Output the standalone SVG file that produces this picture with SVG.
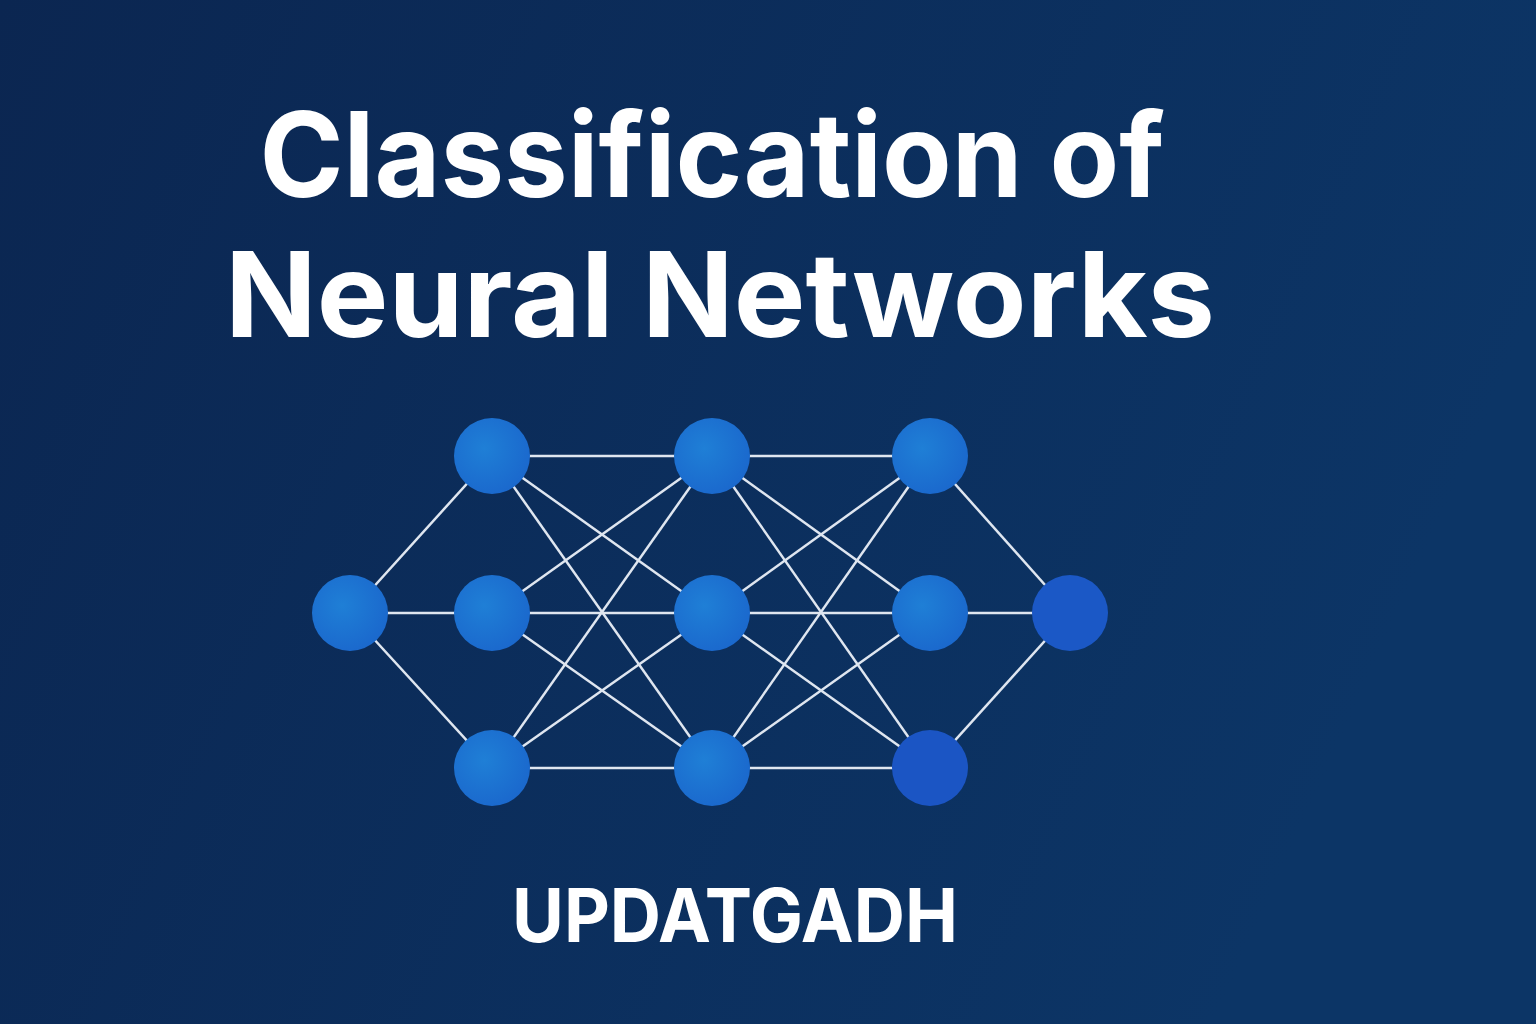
<svg xmlns="http://www.w3.org/2000/svg" width="1536" height="1024" viewBox="0 0 1536 1024">
<defs>
<linearGradient id="bg" x1="0" y1="0" x2="1" y2="0.3">
<stop offset="0" stop-color="#0b2651"/>
<stop offset="1" stop-color="#0c3566"/>
</linearGradient>
<radialGradient id="nd" cx="0.4" cy="0.4" r="0.7">
<stop offset="0" stop-color="#1f7fd6"/>
<stop offset="1" stop-color="#1a66cc"/>
</radialGradient>
<style>
.t{font-family:"Inter","Liberation Sans",sans-serif;font-weight:700;fill:#fff;text-anchor:middle}
.e line{stroke:#dfe6f0;stroke-width:2.5}
.n circle{fill:url(#nd)}
</style>
</defs>
<rect width="1536" height="1024" fill="url(#bg)"/>
<text class="t" x="712" y="197" font-size="118" textLength="905" lengthAdjust="spacingAndGlyphs">Classification of</text>
<text class="t" x="720" y="337" font-size="118" textLength="990" lengthAdjust="spacingAndGlyphs">Neural Networks</text>
<g class="e" id="connectors">
<line x1="350" y1="613" x2="492" y2="456"/><line x1="350" y1="613" x2="492" y2="613"/><line x1="350" y1="613" x2="492" y2="768"/>
<line x1="492" y1="456" x2="712" y2="456"/><line x1="492" y1="456" x2="712" y2="613"/><line x1="492" y1="456" x2="712" y2="768"/>
<line x1="492" y1="613" x2="712" y2="456"/><line x1="492" y1="613" x2="712" y2="613"/><line x1="492" y1="613" x2="712" y2="768"/>
<line x1="492" y1="768" x2="712" y2="456"/><line x1="492" y1="768" x2="712" y2="613"/><line x1="492" y1="768" x2="712" y2="768"/>
<line x1="712" y1="456" x2="930" y2="456"/><line x1="712" y1="456" x2="930" y2="613"/><line x1="712" y1="456" x2="930" y2="768"/>
<line x1="712" y1="613" x2="930" y2="456"/><line x1="712" y1="613" x2="930" y2="613"/><line x1="712" y1="613" x2="930" y2="768"/>
<line x1="712" y1="768" x2="930" y2="456"/><line x1="712" y1="768" x2="930" y2="613"/><line x1="712" y1="768" x2="930" y2="768"/>
<line x1="930" y1="456" x2="1070" y2="613"/><line x1="930" y1="613" x2="1070" y2="613"/><line x1="930" y1="768" x2="1070" y2="613"/>
</g>
<g class="n">
<g id="in"><circle cx="350" cy="613" r="38"/></g>
<g id="h1a"><circle cx="492" cy="456" r="38"/></g>
<g id="h1b"><circle cx="492" cy="613" r="38"/></g>
<g id="h1c"><circle cx="492" cy="768" r="38"/></g>
<g id="h2a"><circle cx="712" cy="456" r="38"/></g>
<g id="h2b"><circle cx="712" cy="613" r="38"/></g>
<g id="h2c"><circle cx="712" cy="768" r="38"/></g>
<g id="h3a"><circle cx="930" cy="456" r="38"/></g>
<g id="h3b"><circle cx="930" cy="613" r="38"/></g>
<g id="h3c"><circle cx="930" cy="768" r="38" fill="#1b55c4" style="fill:#1b55c4"/></g>
<g id="out"><circle cx="1070" cy="613" r="38" style="fill:#1b58c6"/></g>
</g>
<text class="t" x="735" y="942" font-size="74" textLength="446" lengthAdjust="spacingAndGlyphs">UPDATGADH</text>
</svg>
